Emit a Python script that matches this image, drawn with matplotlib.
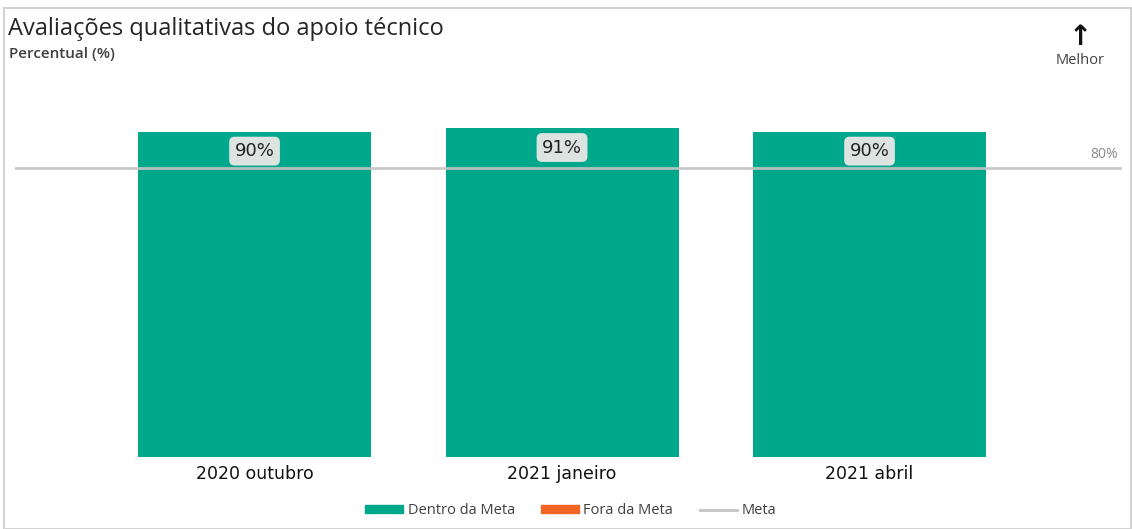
import matplotlib
matplotlib.use("Agg")
import matplotlib.pyplot as plt
from matplotlib.patches import Patch, Rectangle
from matplotlib.lines import Line2D

# Data
periods = ['2020 outubro', '2021 janeiro', '2021 abril']
values = [90, 91, 90]
meta = 80

green = '#00A88B'
orange = '#F26522'
grey_line = '#C4C4C4'

fig = plt.figure(figsize=(11.32, 5.29), dpi=100)
W, H = 1132, 529

# axes placed in pixel terms of the reference
ax = fig.add_axes([15 / W, 1 - 457 / H, (1122 - 15) / W, (457 - 96) / H])
x = list(range(len(periods)))
bars = ax.bar(x, values, width=0.758, color=green, zorder=2)
ax.axhline(meta, color=grey_line, linewidth=2, zorder=3, alpha=0.9)

ax.set_xlim(-0.779, 2.821)
ax.set_ylim(0, 100)
ax.set_xticks(x)
ax.set_xticklabels(periods, fontsize=12.5, color='#111111')
ax.tick_params(axis='x', length=0, pad=6)
ax.set_yticks([])
for s in ax.spines.values():
    s.set_visible(False)

# value labels inside the bars
for xi, v in zip(x, values):
    ax.annotate(f'{v}%', xy=(xi, v), xytext=(0, -13.7), textcoords='offset points',
                ha='center', va='center', fontsize=13, color='#222222', zorder=5,
                bbox=dict(boxstyle='round,pad=0.3,rounding_size=0.3', fc='#DDE3E0', ec='none'))

# goal label on the right
ax.text(1104 / W, 1 - 155 / H, f'{meta}%', transform=fig.transFigure, ha='center', va='center',
        fontsize=10, color='#8A8A8A', family='Open Sans')

# titles
fig.text(8 / W, 1 - 29 / H, 'Avaliações qualitativas do apoio técnico', ha='left', va='center',
         fontsize=17, color='#252525', family='Open Sans')
fig.text(9 / W, 1 - 54 / H, 'Percentual (%)', ha='left', va='center',
         fontsize=11, color='#404040', family='Open Sans', weight='semibold')

# "Melhor" arrow
fig.text(1080 / W, 1 - 37 / H, '↑', ha='center', va='center', fontsize=20,
         color='#111111', weight='bold')
fig.text(1080 / W, 1 - 61 / H, 'Melhor', ha='center', va='center', fontsize=10.5,
         color='#404040', family='Open Sans')

# legend
handles = [Patch(color=green, label='Dentro da Meta'),
           Patch(color=orange, label='Fora da Meta'),
           Line2D([0], [0], color=grey_line, linewidth=2, label='Meta')]
fig.legend(handles=handles, loc='center', bbox_to_anchor=(571 / W, 1 - 511 / H), ncol=3,
           frameon=False, prop={'family': 'Open Sans', 'size': 10.5}, labelcolor='#404040',
           handlelength=2.6, handleheight=0.5, handletextpad=0.3, columnspacing=1.8)

# light frame around the visual
fig.patches.append(Rectangle((4 / W, 0), (1131 - 4) / W, 1 - 8 / H, transform=fig.transFigure,
                             fill=False, edgecolor='#D3D3D3', linewidth=1.5))

fig.savefig('out.png', dpi=100)
